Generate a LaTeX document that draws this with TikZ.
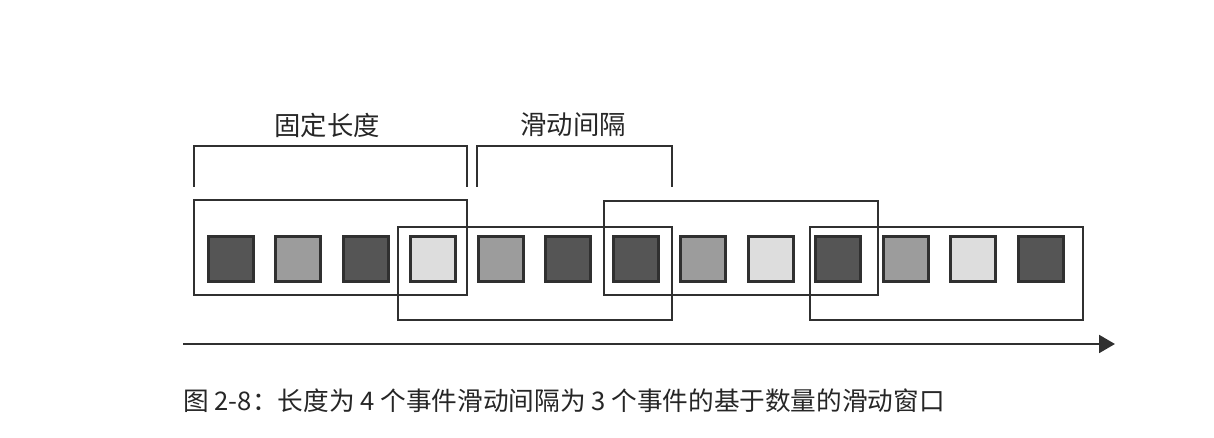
\documentclass[tikz,border=0pt]{standalone}
\usepackage{fontspec}
\newfontfamily\cjk{Noto Sans CJK SC}
\usetikzlibrary{arrows.meta}
\definecolor{lineC}{HTML}{303030}
\definecolor{darkF}{HTML}{555555}
\definecolor{midF}{HTML}{9C9C9C}
\definecolor{lightF}{HTML}{DDDDDD}
\tikzset{
  ev/.style={draw=lineC, line width=1.9pt, minimum size=0.9cm, inner sep=0pt},
  win/.style={draw=lineC, line width=1.6pt},
  lbl/.style={font=\cjk\fontsize{15}{18}\selectfont, text=black!85, inner sep=0pt},
}
\begin{document}
\begin{tikzpicture}[x=0.02cm,y=-0.02cm]
\useasboundingbox[fill=white] (0,0) rectangle (1214,438);
% events
\foreach \i/\c in {1/darkF,2/midF,3/darkF,4/lightF,5/midF,6/darkF,7/darkF,8/midF,9/lightF,10/darkF,11/midF,12/lightF,13/darkF}{
  \node[ev, fill=\c] (s\i) at ({230.7+(\i-1)*67.5},259) {};
}
% windows
\draw[win] (194,200) rectangle (467,295);
\draw[win] (398,227) rectangle (672,320);
\draw[win] (604,201) rectangle (878,295);
\draw[win] (810,227) rectangle (1083,320);
% brackets
\draw[win] (194,187) -- (194,146) -- (467,146) -- (467,187);
\draw[win] (477,187) -- (477,146) -- (672,146) -- (672,187);
\node[lbl] (l1) at (327,125) {固定长度};
\node[lbl] (l2) at (573,125) {滑动间隔};
% time arrow
\coordinate (a0) at (183,344);
\coordinate (a1) at (1115,344);
\draw[win, -{Triangle[length=9pt,width=10pt]}] (a0) -- (a1);
% caption
\node[lbl, anchor=west, font=\cjk\fontsize{14.6}{18}\selectfont] (cap) at (183,401) {图 2-8：长度为 4 个事件滑动间隔为 3 个事件的基于数量的滑动窗口};
\end{tikzpicture}
\end{document}
